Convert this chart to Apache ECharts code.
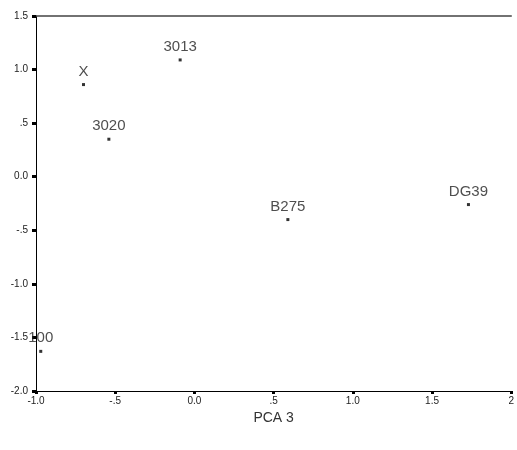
<!DOCTYPE html>
<html><head><meta charset="utf-8">
<script src="https://cdn.jsdelivr.net/npm/echarts@6/dist/echarts.min.js"></script>
<style>html,body{margin:0;padding:0;background:#fff}#c{width:517px;height:450px}</style>
</head><body><div id="c"></div>
<script>
var pointNames = ["X", "3013", "3020", "B275", "DG39", "100"];
var xValues = [-0.70, -0.09, -0.54, 0.59, 1.73, -0.97];
var yValues = [0.86, 1.09, 0.35, -0.40, -0.26, -1.63];
var xTickValues = [-1.0, -0.5, 0.0, 0.5, 1.0, 1.5, 2.0];
var xTickLabels = ["-1.0", "-.5", "0.0", ".5", "1.0", "1.5", "2"];
var yTickValues = [-2.0, -1.5, -1.0, -0.5, 0.0, 0.5, 1.0, 1.5];
var yTickLabels = ["-2.0", "-1.5", "-1.0", "-.5", "0.0", ".5", "1.0", "1.5"];
var xTitle = "PCA 3";

function lookup(vals, labels) {
  return function (v) {
    for (var i = 0; i < vals.length; i++) if (Math.abs(vals[i] - v) < 1e-9) return labels[i];
    return "";
  };
}
var data = pointNames.map(function (n, i) { return { name: n, value: [xValues[i], yValues[i]] }; });

var chart = echarts.init(document.getElementById('c'), null, { renderer: 'canvas' });
chart.setOption({
  backgroundColor: '#fff',
  animation: false,
  grid: { left: 36, right: 3, top: 16, bottom: 59, containLabel: false },
  xAxis: [{
    type: 'value', min: -1, max: 2, interval: 0.5,
    name: xTitle, nameLocation: 'middle', nameGap: 11,
    nameTextStyle: { fontFamily: 'Arial, Liberation Sans', fontSize: 14, color: '#333' },
    axisLine: { show: true, onZero: false, lineStyle: { color: '#000', width: 1 } },
    axisTick: { show: true, length: 3, lineStyle: { color: '#000', width: 3 } },
    axisLabel: { formatter: lookup(xTickValues, xTickLabels), fontFamily: 'Arial, Liberation Sans', fontSize: 10, color: '#222', margin: 5 },
    splitLine: { show: false }
  }, {
    type: 'value', position: 'top', min: -1, max: 2,
    axisLine: { show: true, onZero: false, lineStyle: { color: '#444', width: 1.5 } },
    axisTick: { show: false }, axisLabel: { show: false }, splitLine: { show: false }
  }],
  yAxis: {
    type: 'value', min: -2, max: 1.5, interval: 0.5,
    axisLine: { show: true, onZero: false, lineStyle: { color: '#000', width: 1 } },
    axisTick: { show: true, length: 4, lineStyle: { color: '#000', width: 3 } },
    axisLabel: { formatter: lookup(yTickValues, yTickLabels), fontFamily: 'Arial, Liberation Sans', fontSize: 10, color: '#222', margin: 8 },
    splitLine: { show: false }
  },
  series: [{
    type: 'scatter', xAxisIndex: 0,
    symbol: 'rect', symbolSize: 3,
    itemStyle: { color: '#000' },
    data: data,
    label: {
      show: true, position: 'top', distance: 4,
      formatter: '{b}', fontFamily: 'Arial, Liberation Sans', fontSize: 15, color: '#222'
    }
  }]
});
</script></body></html>
